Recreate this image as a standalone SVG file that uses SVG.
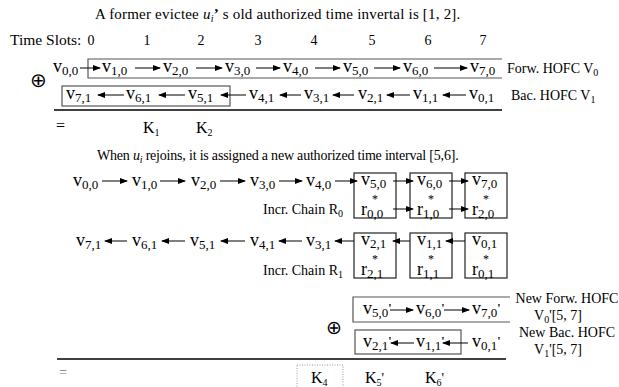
<svg xmlns="http://www.w3.org/2000/svg" width="619" height="387" viewBox="0 0 619 387" font-family="'Liberation Serif','Times New Roman',serif">
<defs>
<marker id="ah" markerWidth="8" markerHeight="6" refX="7" refY="3" orient="auto" markerUnits="userSpaceOnUse">
<path d="M0,0 L8,3 L0,6 Z" fill="#000"/>
</marker>
<style>
text{font-family:"Liberation Serif","Times New Roman",serif;fill:#000}
.t{font-size:14px}
.v{font-size:18px}
.s{font-size:13px}
.st{font-size:12px}
.c{stroke:#000;stroke-width:1;fill:none;marker-end:url(#ah)}
.bx{stroke:#555;stroke-width:1.2;fill:none}
.cb{stroke:#222;stroke-width:1.2;fill:none}
.sum{stroke:#000;stroke-width:1.5}
</style>
</defs>
<rect width="619" height="387" fill="#fff"/>

<text x="95" y="19" style="font-size:15px;letter-spacing:0.2px">A former evictee <tspan font-style="italic">u</tspan><tspan font-style="italic" font-size="10" dy="3">i</tspan><tspan dy="-3" font-weight="bold">’</tspan> s old authorized time invertal is [1, 2].</text>
<text x="10" y="45" style="font-size:15.5px">Time Slots:</text>
<g id="slots" text-anchor="middle">
<text class="t" x="91" y="45">0</text><text class="t" x="147" y="45">1</text><text class="t" x="201" y="45">2</text><text class="t" x="258" y="45">3</text><text class="t" x="314" y="45">4</text><text class="t" x="372" y="45">5</text><text class="t" x="428" y="45">6</text><text class="t" x="483" y="45">7</text>
</g>

<!-- Section 1 -->
<g id="sec1-boxes">
<path class="bx" d="M502,59 H88 V78 H502"/>
<rect class="bx" x="62" y="86" width="168" height="20"/>
</g>
<g id="connectors1">
<line class="c" x1="80" y1="68" x2="100" y2="68"/>
<line class="c" x1="135" y1="68" x2="160" y2="68"/>
<line class="c" x1="196" y1="68" x2="222" y2="68"/>
<line class="c" x1="256" y1="68" x2="280" y2="68"/>
<line class="c" x1="315" y1="68" x2="340" y2="68"/>
<line class="c" x1="374" y1="68" x2="400" y2="68"/>
<line class="c" x1="434" y1="68" x2="467" y2="68"/>
<line class="c" x1="466" y1="95" x2="443" y2="95"/>
<line class="c" x1="410" y1="95" x2="387" y2="95"/>
<line class="c" x1="354" y1="95" x2="333" y2="95"/>
<line class="c" x1="301" y1="95" x2="280" y2="95"/>
<line class="c" x1="246" y1="95" x2="221" y2="95"/>
<line class="c" x1="185" y1="95" x2="159" y2="95"/>
<line class="c" x1="124" y1="95" x2="98" y2="95"/>
</g>
<g id="row1">
<text x="30" y="87" style="font-size:20px">⊕</text>
<text class="v" x="53" y="72">v<tspan class="s" dy="3">0,0</tspan></text>
<text class="v" x="102" y="72">v<tspan class="s" dy="3">1,0</tspan></text>
<text class="v" x="163" y="72">v<tspan class="s" dy="3">2,0</tspan></text>
<text class="v" x="225" y="72">v<tspan class="s" dy="3">3,0</tspan></text>
<text class="v" x="283" y="72">v<tspan class="s" dy="3">4,0</tspan></text>
<text class="v" x="343" y="72">v<tspan class="s" dy="3">5,0</tspan></text>
<text class="v" x="403" y="72">v<tspan class="s" dy="3">6,0</tspan></text>
<text class="v" x="470" y="72">v<tspan class="s" dy="3">7,0</tspan></text>
<text class="t" x="507" y="73">Forw. HOFC V<tspan font-size="10" dy="3">0</tspan></text>
</g>
<g id="row2">
<text class="v" x="66" y="99">v<tspan class="s" dy="3">7,1</tspan></text>
<text class="v" x="126" y="99">v<tspan class="s" dy="3">6,1</tspan></text>
<text class="v" x="188" y="99">v<tspan class="s" dy="3">5,1</tspan></text>
<text class="v" x="249" y="99">v<tspan class="s" dy="3">4,1</tspan></text>
<text class="v" x="304" y="99">v<tspan class="s" dy="3">3,1</tspan></text>
<text class="v" x="358" y="99">v<tspan class="s" dy="3">2,1</tspan></text>
<text class="v" x="413" y="99">v<tspan class="s" dy="3">1,1</tspan></text>
<text class="v" x="469" y="99">v<tspan class="s" dy="3">0,1</tspan></text>
<text class="t" x="511" y="100">Bac. HOFC V<tspan font-size="10" dy="3">1</tspan></text>
</g>
<line class="sum" x1="54" y1="110" x2="502" y2="110"/>
<g id="result1">
<text x="56" y="131" style="font-size:16px">=</text>
<text x="143" y="133" style="font-size:16px">K<tspan font-size="10" dy="3">1</tspan></text>
<text x="196" y="133" style="font-size:16px">K<tspan font-size="10" dy="3">2</tspan></text>
</g>

<!-- Section 2 -->
<text x="97" y="160" style="font-size:14px;letter-spacing:-0.2px">When <tspan font-style="italic">u</tspan><tspan font-style="italic" font-size="10" dy="3">i</tspan><tspan dy="-3"> rejoins, it is assigned a new authorized time interval [5,6].</tspan></text>

<g id="boxesR0">
<rect class="cb" x="354" y="173" width="42" height="45"/>
<rect class="cb" x="410" y="173" width="42" height="45"/>
<rect class="cb" x="465" y="173" width="42" height="45"/>
</g>
<g id="boxesR1">
<rect class="cb" x="354" y="233" width="42" height="45"/>
<rect class="cb" x="410" y="233" width="42" height="45"/>
<rect class="cb" x="465" y="233" width="42" height="45"/>
</g>
<g id="connectors2">
<line class="c" x1="102" y1="181" x2="127" y2="181"/>
<line class="c" x1="160" y1="181" x2="185" y2="181"/>
<line class="c" x1="220" y1="181" x2="245" y2="181"/>
<line class="c" x1="279" y1="181" x2="302" y2="181"/>
<line class="c" x1="335" y1="181" x2="357" y2="181"/>
<line class="c" x1="393" y1="181" x2="413" y2="181"/>
<line class="c" x1="449" y1="181" x2="468" y2="181"/>
<line class="c" x1="393" y1="209" x2="413" y2="209"/>
<line class="c" x1="449" y1="209" x2="468" y2="209"/>
<line class="c" x1="127" y1="241" x2="105" y2="241"/>
<line class="c" x1="185" y1="241" x2="162" y2="241"/>
<line class="c" x1="245" y1="241" x2="221" y2="241"/>
<line class="c" x1="302" y1="241" x2="279" y2="241"/>
<line class="c" x1="354" y1="241" x2="335" y2="241"/>
<line class="c" x1="410" y1="241" x2="393" y2="241"/>
<line class="c" x1="465" y1="241" x2="446" y2="241"/>
</g>
<g id="row3">
<text class="v" x="73" y="186">v<tspan class="s" dy="3">0,0</tspan></text>
<text class="v" x="132" y="186">v<tspan class="s" dy="3">1,0</tspan></text>
<text class="v" x="191" y="186">v<tspan class="s" dy="3">2,0</tspan></text>
<text class="v" x="250" y="186">v<tspan class="s" dy="3">3,0</tspan></text>
<text class="v" x="306" y="186">v<tspan class="s" dy="3">4,0</tspan></text>
<text class="v" x="361" y="185">v<tspan class="s" dy="3">5,0</tspan></text>
<text class="v" x="417" y="185">v<tspan class="s" dy="3">6,0</tspan></text>
<text class="v" x="472" y="185">v<tspan class="s" dy="3">7,0</tspan></text>
<text class="st" x="375" y="203" text-anchor="middle">*</text>
<text class="st" x="431" y="203" text-anchor="middle">*</text>
<text class="st" x="486" y="203" text-anchor="middle">*</text>
<text class="v" x="361" y="215">r<tspan class="s" dy="3">0,0</tspan></text>
<text class="v" x="417" y="215">r<tspan class="s" dy="3">1,0</tspan></text>
<text class="v" x="472" y="215">r<tspan class="s" dy="3">2,0</tspan></text>
<text class="t" x="263" y="214">Incr. Chain R<tspan font-size="10" dy="3">0</tspan></text>
</g>
<g id="row4">
<text class="v" x="76" y="246">v<tspan class="s" dy="3">7,1</tspan></text>
<text class="v" x="132" y="246">v<tspan class="s" dy="3">6,1</tspan></text>
<text class="v" x="190" y="246">v<tspan class="s" dy="3">5,1</tspan></text>
<text class="v" x="250" y="246">v<tspan class="s" dy="3">4,1</tspan></text>
<text class="v" x="306" y="246">v<tspan class="s" dy="3">3,1</tspan></text>
<text class="v" x="361" y="245">v<tspan class="s" dy="3">2,1</tspan></text>
<text class="v" x="417" y="245">v<tspan class="s" dy="3">1,1</tspan></text>
<text class="v" x="472" y="245">v<tspan class="s" dy="3">0,1</tspan></text>
<text class="st" x="375" y="263" text-anchor="middle">*</text>
<text class="st" x="431" y="263" text-anchor="middle">*</text>
<text class="st" x="486" y="263" text-anchor="middle">*</text>
<text class="v" x="361" y="275">r<tspan class="s" dy="3">2,1</tspan></text>
<text class="v" x="417" y="275">r<tspan class="s" dy="3">1,1</tspan></text>
<text class="v" x="472" y="275">r<tspan class="s" dy="3">0,1</tspan></text>
<text class="t" x="263" y="275">Incr. Chain R<tspan font-size="10" dy="3">1</tspan></text>
</g>

<!-- Section 3 -->
<g id="sec3-boxes">
<path class="bx" d="M510,297 H353 V322 H510"/>
<rect class="bx" x="355" y="330" width="106" height="24"/>
</g>
<g id="connectors3">
<line class="c" x1="390" y1="310" x2="413" y2="310"/>
<line class="c" x1="444" y1="310" x2="469" y2="310"/>
<line class="c" x1="414" y1="343" x2="391" y2="343"/>
<line class="c" x1="468" y1="343" x2="443" y2="343"/>
</g>
<g id="row5">
<text x="326" y="334" style="font-size:19px">⊕</text>
<text class="v" x="363" y="314">v<tspan class="s" dy="3">5,0</tspan><tspan dy="-5" font-weight="bold" font-size="12">'</tspan></text>
<text class="v" x="416" y="314">v<tspan class="s" dy="3">6,0</tspan><tspan dy="-5" font-weight="bold" font-size="12">'</tspan></text>
<text class="v" x="472" y="314">v<tspan class="s" dy="3">7,0</tspan><tspan dy="-5" font-weight="bold" font-size="12">'</tspan></text>
<text class="t" x="567" y="303" text-anchor="middle">New Forw. HOFC</text>
<text class="t" x="558" y="320" text-anchor="middle">V<tspan font-size="10" dy="3">0</tspan><tspan dy="-3">'[5, 7]</tspan></text>
</g>
<g id="row6">
<text class="v" x="363" y="347">v<tspan class="s" dy="3">2,1</tspan><tspan dy="-5" font-weight="bold" font-size="12">'</tspan></text>
<text class="v" x="416" y="347">v<tspan class="s" dy="3">1,1</tspan><tspan dy="-5" font-weight="bold" font-size="12">'</tspan></text>
<text class="v" x="472" y="347">v<tspan class="s" dy="3">0,1</tspan><tspan dy="-5" font-weight="bold" font-size="12">'</tspan></text>
<text class="t" x="567" y="337" text-anchor="middle">New Bac. HOFC</text>
<text class="t" x="558" y="354" text-anchor="middle">V<tspan font-size="10" dy="3">1</tspan><tspan dy="-3">'[5, 7]</tspan></text>
</g>
<line class="sum" x1="57" y1="359" x2="506" y2="359"/>
<g id="result2">
<text x="59" y="377" style="font-size:14px;fill:#777">=</text>
<rect x="297" y="365" width="46" height="26" fill="none" stroke="#999" stroke-dasharray="1,1.5"/>
<text x="311" y="383" style="font-size:16px">K<tspan font-size="10" dy="3">4</tspan></text>
<text x="365" y="383" style="font-size:16px">K<tspan font-size="10" dy="3">5</tspan><tspan dy="-3" font-size="14">'</tspan></text>
<text x="425" y="383" style="font-size:16px">K<tspan font-size="10" dy="3">6</tspan><tspan dy="-3" font-size="14">'</tspan></text>
</g>
</svg>
